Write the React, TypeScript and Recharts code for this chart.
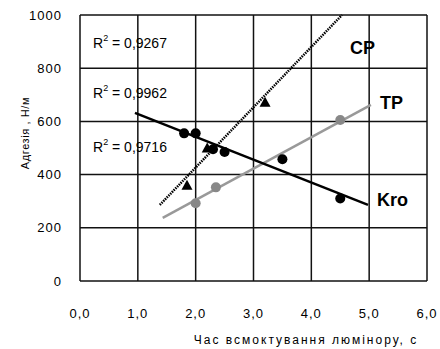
import React from 'react';
import { ComposedChart, Scatter, XAxis, YAxis } from 'recharts';

const kroPoints = [
  { x: 1.8, y: 555 }, { x: 2.0, y: 555 }, { x: 2.3, y: 495 }, { x: 2.5, y: 485 },
  { x: 3.5, y: 458 }, { x: 4.5, y: 310 },
];
const tpPoints = [
  { x: 2.0, y: 292 }, { x: 2.35, y: 352 }, { x: 4.5, y: 605 },
];
const cpPoints = [
  { x: 1.85, y: 360 }, { x: 2.2, y: 500 }, { x: 3.2, y: 672 },
];
const kroTrend = [{ x: 0.95, y: 632 }, { x: 4.98, y: 286 }];
const tpTrend = [{ x: 1.43, y: 237 }, { x: 5.03, y: 662 }];
const cpTrend = [{ x: 1.38, y: 286 }, { x: 4.53, y: 1000 }];

const xTicks = [0, 1, 2, 3, 4, 5, 6];
const yTicks = [0, 200, 400, 600, 800, 1000];
const r2Labels = ['0,9267', '0,9962', '0,9716'];
const seriesNames = ['CP', 'TP', 'Kro'];

const font = '"Liberation Sans", Arial, sans-serif';

const xMin = xTicks[0];
const xMax = xTicks[xTicks.length - 1];
const yMin = yTicks[0];
const yMax = yTicks[yTicks.length - 1];
const verticalGrid = xTicks.map((t) => [{ x: t, y: yMin }, { x: t, y: yMax }]);
const horizontalGrid = yTicks.map((t) => [{ x: xMin, y: t }, { x: xMax, y: t }]);

const GrayDot = (props: any) => <circle cx={props.cx} cy={props.cy} r={5} fill="#888" />;
const BlackDot = (props: any) => <circle cx={props.cx} cy={props.cy} r={5} fill="#000" />;
const Tri = (props: any) => {
  const { cx, cy } = props;
  const s = 5.5;
  return <polygon points={`${cx},${cy - s} ${cx - s},${cy + s * 0.8} ${cx + s},${cy + s * 0.8}`} fill="#000" />;
};
const NoShape = () => null;

const Overlay = () => {
  const r2y = [48, 98, 152];
  const nameStyle = { fontFamily: font, fontWeight: 700, fontSize: 18, fill: '#000' } as any;
  return (
    <svg width={440} height={349} style={{ position: 'absolute', left: 0, top: 0, pointerEvents: 'none' }}>
      {r2Labels.map((v, i) => (
        <text key={i} x={93} y={r2y[i]} fontFamily={font} fontSize={14} fill="#000">
          R<tspan dy={-7} fontSize={9}>2</tspan><tspan dy={7}>{` = ${v}`}</tspan>
        </text>
      ))}
      <text x={350} y={54} {...nameStyle}>{seriesNames[0]}</text>
      <text x={380} y={109} {...nameStyle}>{seriesNames[1]}</text>
      <text x={377} y={206} {...nameStyle}>{seriesNames[2]}</text>
      <text x={306} y={344} textAnchor="middle" fontFamily={font} fontSize={12} letterSpacing={2} fill="#000">
        Час всмоктування люмінору, с
      </text>
      <text x={0} y={0} transform="translate(29,133) rotate(-90)" textAnchor="middle" fontFamily={font} fontSize={11} letterSpacing={0.6} fill="#000">
        Адгезія , Н/м
      </text>
    </svg>
  );
};

const fmt = (v: number) => v.toFixed(1).replace('.', ',');

export default function App() {
  return (
    <div style={{ position: 'absolute', left: 0, top: 0, width: 440, height: 349, background: '#fff', fontFamily: font }}>
      <ComposedChart width={440} height={349} margin={{ top: 15, right: 13, bottom: 38, left: 20 }}>
        <XAxis
          type="number"
          dataKey="x"
          domain={[xMin, xMax]}
          ticks={xTicks}
          tickFormatter={fmt}
          height={30}
          axisLine={false}
          tickLine={false}
          tickMargin={22}
          tick={{ fontSize: 13, fill: '#000', letterSpacing: 1 }}
        />
        <YAxis
          type="number"
          dataKey="y"
          domain={[yMin, yMax]}
          ticks={yTicks}
          width={60}
          axisLine={false}
          tickLine={false}
          tickMargin={12}
          tick={{ fontSize: 13, fill: '#000', letterSpacing: 1 }}
        />
        {verticalGrid.map((d, i) => (
          <Scatter key={'vg' + i} data={d} line={{ stroke: '#111', strokeWidth: 1.5 }} shape={NoShape} isAnimationActive={false} />
        ))}
        {horizontalGrid.map((d, i) => (
          <Scatter key={'hg' + i} data={d} line={{ stroke: '#111', strokeWidth: 1.5 }} shape={NoShape} isAnimationActive={false} />
        ))}
        <Scatter data={tpTrend} line={{ stroke: '#999', strokeWidth: 2.5 }} shape={NoShape} isAnimationActive={false} />
        <Scatter data={kroTrend} line={{ stroke: '#000', strokeWidth: 2.5 }} shape={NoShape} isAnimationActive={false} />
        <Scatter data={cpTrend} line={{ stroke: '#000', strokeWidth: 2.5, strokeDasharray: '1.5 1' }} shape={NoShape} isAnimationActive={false} />
        <Scatter data={tpPoints} shape={GrayDot} isAnimationActive={false} />
        <Scatter data={kroPoints} shape={BlackDot} isAnimationActive={false} />
        <Scatter data={cpPoints} shape={Tri} isAnimationActive={false} />
      </ComposedChart>
      <Overlay />
    </div>
  );
}
